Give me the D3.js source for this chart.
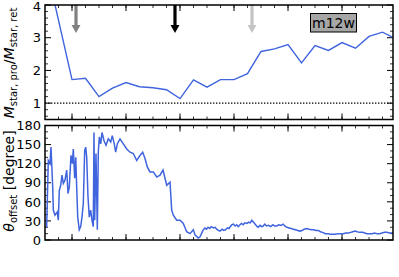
<!DOCTYPE html>
<html><head><meta charset="utf-8">
<script src="https://cdn.jsdelivr.net/npm/d3@7"></script>
<style>body{margin:0;background:#fff}svg{display:block}text{font-family:"DejaVu Sans",sans-serif}</style>
</head><body>
<script>
// ratio panel
const ratioTime = [7.5,8.0,8.25,8.5,8.75,9.0,9.25,9.5,9.75,10.0,10.25,10.5,10.75,11.0,11.25,11.5,11.75,12.0,12.25,12.5,12.75,13.0,13.25,13.5,13.75,14.0];
const ratioVal  = [5.35,1.72,1.76,1.20,1.46,1.63,1.50,1.47,1.41,1.14,1.71,1.49,1.72,1.72,1.90,2.58,2.66,2.79,2.23,2.76,2.61,2.85,2.68,3.04,3.17,2.96];
// offset angle panel
const thetaTime = [7.51,7.531,7.561,7.593,7.611,7.643,7.654,7.685,7.728,7.746,7.765,7.791,7.815,7.839,7.870,7.902,7.926,7.950,7.981,8.006,8.024,8.050,8.069,8.087,8.106,8.135,8.161,8.185,8.209,8.235,8.254,8.272,8.296,8.320,8.346,8.370,8.394,8.407,8.420,8.444,8.469,8.487,8.506,8.531,8.556,8.593,8.630,8.672,8.717,8.746,8.783,8.809,8.839,8.889,8.950,9.013,9.074,9.135,9.198,9.259,9.309,9.352,9.394,9.444,9.506,9.569,9.630,9.685,9.754,9.815,9.846,9.876,9.939,10.0,10.061,10.124,10.185,10.246,10.278,10.339,10.370,
  10.43,10.46,10.49,10.52,10.55,10.58,10.62,10.65,10.68,10.71,10.74,10.78,10.81,10.84,10.88,10.91,10.93,10.96,10.99,11.02,11.05,11.08,11.11,11.14,11.17,11.20,11.24,11.27,11.30,11.33,11.35,11.37,11.40,11.43,11.45,11.48,11.51,11.54,11.57,11.60,11.64,11.68,11.72,11.75,11.79,11.83,11.87,11.91,11.94,11.98,12.02,12.06,12.10,12.14,12.18,12.22,12.26,12.30,12.35,12.39,12.44,12.48,12.52,12.56,12.60,12.64,12.69,12.74,12.78,12.83,12.88,12.93,12.98,13.02,13.07,13.12,13.16,13.20,13.24,13.28,13.33,13.38,13.42,13.46,13.51,13.56,13.60,13.65,13.70,13.74,13.79,13.83,13.88,13.93,13.96];
const thetaVal  = [21,21,125,120,146,83,47,39,44,31,78,86,102,89,94,110,73,83,133,120,143,97,130,83,36,16,21,36,57,141,146,130,68,36,47,31,21,169,31,136,16,138,162,151,169,156,149,159,154,164,151,138,151,159,151,143,138,136,125,133,138,128,115,107,107,99,102,110,86,91,47,39,31,31,26,13,10,16,8,3,5,
  16,19,17,20,18,21,19,20,17,15,14,17,15,16,19,18,21,24,25,22,24,21,24,26,24,27,26,28,27,31,29,27,24,21,20,23,21,22,25,22,23,21,24,22,22,24,23,25,22,20,19,18,17,16,15,14,15,17,18,17,16,16,15,15,13,12,10,10,9,9,9,10,10,10,11,11,12,13,14,13,12,12,11,10,10,10,11,10,10,11,12,12,11,11,12];
const ratioTicks = [1,2,3,4];
const thetaTicks = [0,30,60,90,120,150,180];
const arrowTime = [8.074, 9.907, 11.333];
const arrowColor = ["#808080","#000000","#c4c4c4"];
const simLabel = "m12w";

const W=399,H=277, L=45, R=393;
const svg=d3.select("body").append("svg").attr("width",W).attr("height",H);
const x=d3.scaleLinear().domain([7.5,13.944]).range([L,R]);
const majorX=d3.range(8,14,1), minorX=d3.range(7.75,13.95,0.25);
const blue="#3f64de";

function panel(y, top, bottom, majorY, minorY, fmt){
  const g=svg.append("g");
  const clipId="c"+Math.round(top);
  svg.append("clipPath").attr("id",clipId).append("rect").attr("x",L).attr("y",top).attr("width",R-L).attr("height",bottom-top);
  const t=g.append("g").attr("stroke","#000");
  minorX.forEach(v=>{t.append("line").attr("x1",x(v)).attr("x2",x(v)).attr("y1",bottom).attr("y2",bottom-3).attr("stroke-width",0.8);
    t.append("line").attr("x1",x(v)).attr("x2",x(v)).attr("y1",top).attr("y2",top+3).attr("stroke-width",0.8);});
  majorX.forEach(v=>{t.append("line").attr("x1",x(v)).attr("x2",x(v)).attr("y1",bottom).attr("y2",bottom-6).attr("stroke-width",1);
    t.append("line").attr("x1",x(v)).attr("x2",x(v)).attr("y1",top).attr("y2",top+6).attr("stroke-width",1);});
  minorY.forEach(v=>{t.append("line").attr("x1",L).attr("x2",L+3).attr("y1",y(v)).attr("y2",y(v)).attr("stroke-width",0.8);
    t.append("line").attr("x1",R).attr("x2",R-3).attr("y1",y(v)).attr("y2",y(v)).attr("stroke-width",0.8);});
  majorY.forEach(v=>{t.append("line").attr("x1",L).attr("x2",L+6).attr("y1",y(v)).attr("y2",y(v)).attr("stroke-width",1);
    t.append("line").attr("x1",R).attr("x2",R-6).attr("y1",y(v)).attr("y2",y(v)).attr("stroke-width",1);
    g.append("text").attr("x",L-4).attr("y",Math.max(y(v),6.2)).attr("dy","0.36em").attr("text-anchor","end").attr("font-size",13).text(fmt(v));});
  return {g,clipId};
}

// top panel
const y1=d3.scaleLinear().domain([0.5,4]).range([119.5,5]);
const p1=panel(y1,5,119.5,ratioTicks,d3.range(0.6,4.0,0.2).filter(v=>Math.abs(v-Math.round(v))>0.01),d3.format("d"));
svg.append("line").attr("x1",L).attr("x2",R).attr("y1",y1(1)).attr("y2",y1(1)).attr("stroke","#000").attr("stroke-width",1.3).attr("stroke-dasharray","1.4,1.6");
svg.append("path").datum(ratioTime.map((t,i)=>[t,ratioVal[i]])).attr("clip-path",`url(#${p1.clipId})`)
  .attr("d",d3.line().x(d=>x(d[0])).y(d=>y1(d[1]))).attr("fill","none").attr("stroke",blue).attr("stroke-width",1.4);
arrowTime.forEach((t,i)=>{
  const cx=x(t), c=arrowColor[i];
  svg.append("rect").attr("x",cx-1.6).attr("y",5).attr("width",3.2).attr("height",21).attr("fill",c);
  svg.append("path").attr("d",`M${cx-4.5},25 L${cx+4.5},25 L${cx},33 Z`).attr("fill",c);
});
svg.append("rect").attr("x",310.5).attr("y",13.5).attr("width",46).attr("height",18.5).attr("fill","#a6a6a6").attr("stroke","#000").attr("stroke-width",1);
svg.append("text").attr("x",333.5).attr("y",27.5).attr("text-anchor","middle").attr("font-family","'DejaVu Serif',serif").attr("font-size",14).text(simLabel);
svg.append("rect").attr("x",L).attr("y",5).attr("width",R-L).attr("height",114.5).attr("fill","none").attr("stroke","#000").attr("stroke-width",1.5);

// bottom panel
const y2=d3.scaleLinear().domain([0,180]).range([240,125.5]);
const p2=panel(y2,125.5,240,thetaTicks,d3.range(10,180,10).filter(v=>v%30!==0),d3.format("d"));
svg.append("path").datum(thetaTime.map((t,i)=>[t,thetaVal[i]])).attr("clip-path",`url(#${p2.clipId})`)
  .attr("d",d3.line().x(d=>x(d[0])).y(d=>y2(d[1]))).attr("fill","none").attr("stroke",blue).attr("stroke-width",1.5);
svg.append("rect").attr("x",L).attr("y",125.5).attr("width",R-L).attr("height",114.5).attr("fill","none").attr("stroke","#000").attr("stroke-width",1.5);

// y labels
const lab1=svg.append("text").attr("transform","translate(14,63) rotate(-90)").attr("text-anchor","middle").attr("font-size",14);
lab1.append("tspan").attr("font-style","italic").text("M");
lab1.append("tspan").attr("font-size",10).attr("dy",3).text("star, pro");
lab1.append("tspan").attr("dy",-3).text("/");
lab1.append("tspan").attr("font-style","italic").text("M");
lab1.append("tspan").attr("font-size",10).attr("dy",3).text("star, ret");
const lab2=svg.append("text").attr("transform","translate(14,181) rotate(-90)").attr("text-anchor","middle").attr("font-size",14);
lab2.append("tspan").attr("font-style","italic").text("θ");
lab2.append("tspan").attr("font-size",10).attr("dy",3).text("offset");
lab2.append("tspan").attr("dy",-3).text(" [degree]");
</script>
</body></html>
